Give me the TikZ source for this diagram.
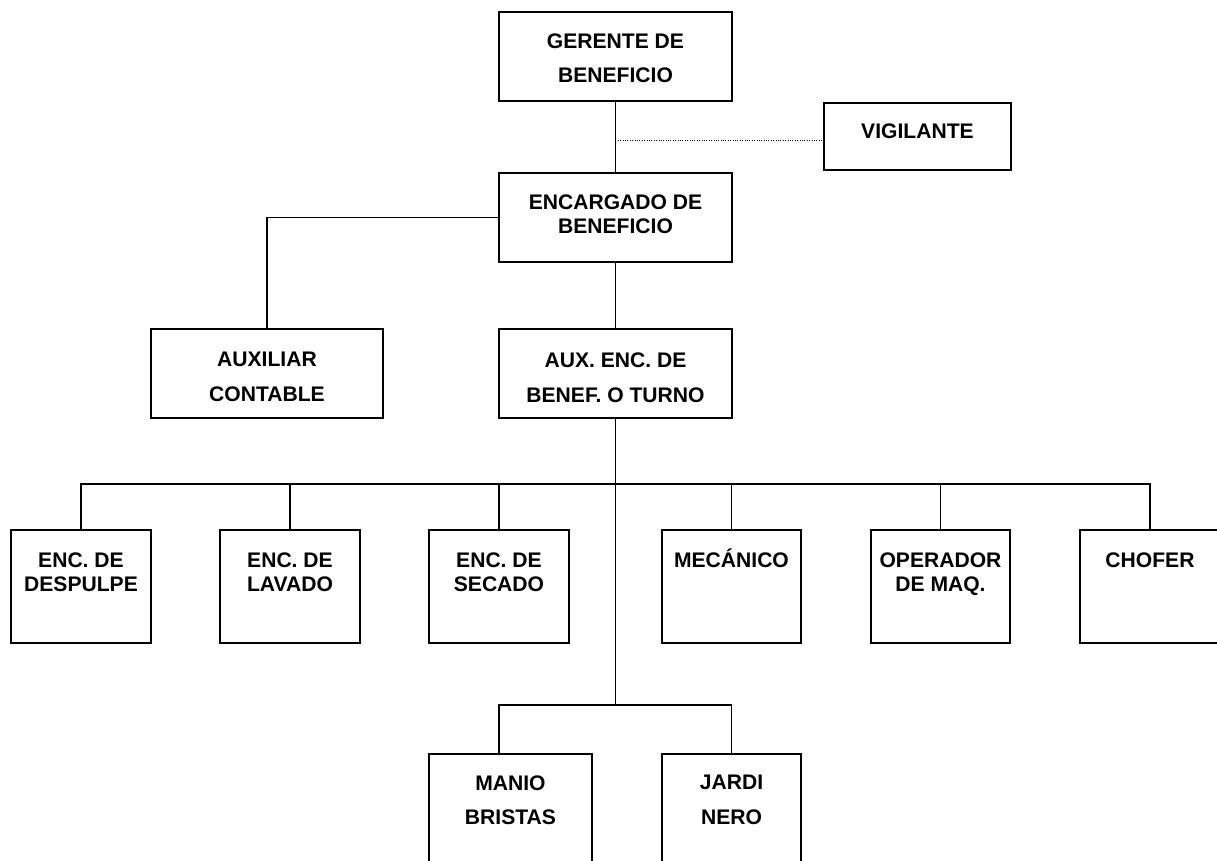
\documentclass[tikz,border=0pt]{standalone}
\usepackage{fontspec}
\setmainfont{Liberation Sans}
\usepackage{tikz}
\usetikzlibrary{calc,positioning}
\tikzset{
  caja/.style 2 args={draw, line width=1.4pt, inner sep=0pt, anchor=north west,
    minimum width=#1*0.025cm, minimum height=#2*0.025cm},
  rotulo/.style={align=center, inner sep=0pt, anchor=north,
    font=\fontsize{15pt}{17pt}\selectfont\bfseries},
  holgado/.style={rotulo, font=\fontsize{15pt}{24.5pt}\selectfont\bfseries},
  enlace/.style={line width=1.4pt},
  punteado/.style={line width=0.7pt, densely dotted}
}

\begin{document}
\begin{tikzpicture}[x=0.025cm, y=-0.025cm]
  \useasboundingbox (0,0) rectangle (1217,861);
  \node[caja={233}{89}] (gerente) at (498,11) {};
  \node[holgado] (gerente-t) at ([yshift=-0.55cm]gerente.north) {GERENTE DE\\BENEFICIO};
  \node[caja={187}{67}] (vigilante) at (823,102) {};
  \node[rotulo] (vigilante-t) at ([yshift=-0.53cm]vigilante.north) {VIGILANTE};
  \node[caja={233}{89}] (encargado) at (498,172) {};
  \node[rotulo] (encargado-t) at ([yshift=-0.57cm]encargado.north) {ENCARGADO DE\\BENEFICIO};
  \node[caja={232}{89}] (auxcont) at (150,328) {};
  \node[holgado] (auxcont-t) at ([yshift=-0.6cm]auxcont.north) {AUXILIAR\\CONTABLE};
  \node[caja={233}{89}] (auxenc) at (498,328) {};
  \node[holgado] (auxenc-t) at ([yshift=-0.62cm]auxenc.north) {AUX. ENC. DE\\BENEF. O TURNO};

  \node[caja={140}{113}] (despulpe) at (10,529) {};
  \node[rotulo] (despulpe-t) at ([yshift=-0.58cm]despulpe.north) {ENC. DE\\DESPULPE};
  \node[caja={140}{113}] (lavado) at (219,529) {};
  \node[rotulo] (lavado-t) at ([yshift=-0.58cm]lavado.north) {ENC. DE\\LAVADO};
  \node[caja={140}{113}] (secado) at (428,529) {};
  \node[rotulo] (secado-t) at ([yshift=-0.58cm]secado.north) {ENC. DE\\SECADO};
  \node[caja={139}{113}] (mecanico) at (661,529) {};
  \node[rotulo] (mecanico-t) at ([yshift=-0.5cm]mecanico.north) {MECÁNICO};
  \node[caja={139}{113}] (operador) at (870,529) {};
  \node[rotulo] (operador-t) at ([yshift=-0.58cm]operador.north) {OPERADOR\\DE MAQ.};
  \node[caja={140}{113}] (chofer) at (1079,529) {};
  \node[rotulo] (chofer-t) at ([yshift=-0.58cm]chofer.north) {CHOFER};

  \node[caja={163}{140}] (manio) at (428,753) {};
  \node[holgado] (manio-t) at ([yshift=-0.55cm]manio.north) {MANIO\\BRISTAS};
  \node[caja={139}{140}] (jardi) at (661,753) {};
  \node[holgado] (jardi-t) at ([yshift=-0.55cm]jardi.north) {JARDI\\NERO};

  \coordinate (cruce) at (gerente.south |- 0,140);
  \coordinate (barra) at (auxenc.south |- 0,484);
  \coordinate (nudo) at (auxenc.south |- 0,705);
  \draw[enlace] (gerente.south) -- (encargado.north);
  \draw[punteado] (cruce) -- (cruce -| vigilante.west);
  \draw[enlace] (encargado.west) -| (auxcont.north);
  \draw[enlace] (encargado.south) -- (auxenc.north);
  \draw[enlace] (auxenc.south) -- (nudo);
  \foreach \n in {despulpe,lavado,secado,mecanico,operador,chofer}
    \draw[enlace] (barra) -| (\n.north);
  \draw[enlace] (nudo) -| (manio.north -| secado.north);
  \draw[enlace] (nudo) -| (jardi.north);
\end{tikzpicture}
\end{document}
